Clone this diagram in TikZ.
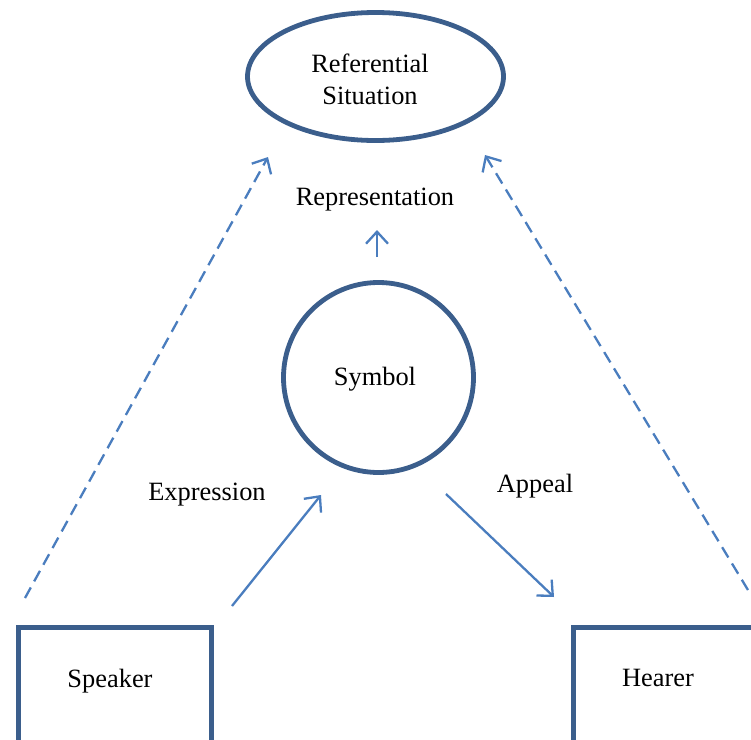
\documentclass[tikz,border=0pt]{standalone}
\usepackage{fontspec}
\setmainfont{Liberation Serif}
\usetikzlibrary{shapes.geometric}
\usetikzlibrary{arrows.meta}
\definecolor{framecol}{RGB}{59,94,140}
\definecolor{arrowcol}{RGB}{74,125,190}

\begin{document}
\begin{tikzpicture}[x=0.5pt,y=-0.5pt,
    font=\fontsize{13.2}{16}\selectfont,
    frame/.style={draw=framecol,line width=2.4pt},
    link/.style={draw=arrowcol,line width=1.15pt,arrows={-{Straight Barb[length=6pt,width=11pt,line width=1.15pt]}}},
    label/.style={inner sep=0pt,align=center}]
    \useasboundingbox (0,0) rectangle (751,740);
    \clip (0,0) rectangle (751,740);

    % shapes
    \node [frame,ellipse,minimum width=128pt,minimum height=64pt] (situation) at (375.5,76.5) {};
    \node [frame,circle,minimum size=95pt] (symbol) at (378.5,377.5) {};
    \node [frame,rectangle,anchor=north west,minimum width=96.5pt,minimum height=80pt] (speaker) at (16,625) {};
    \node [frame,rectangle,anchor=north west,minimum width=100pt,minimum height=80pt] (hearer) at (571,625) {};

    % texts
    \node [label] (situationtext) at (370,79) {Referential\\Situation};
    \node [label] (symboltext) at (375,379) {Symbol};
    \node [label] (speakertext) at (110,681) {Speaker};
    \node [label] (hearertext) at (658,678) {Hearer};
    \node [label] (reprtext) at (375,200) {Representation};
    \node [label] (exprtext) at (207,495) {Expression};
    \node [label] (appealtext) at (535,486) {Appeal};

    % arrow ends
    \coordinate (sp1) at (25,598);
    \coordinate (sp2) at (268,157);
    \coordinate (he1) at (748,590);
    \coordinate (he2) at (485,155);
    \coordinate (re1) at (377,257);
    \coordinate (re2) at (377,230);
    \coordinate (ex1) at (232,606);
    \coordinate (ex2) at (321,495);
    \coordinate (ap1) at (446,494);
    \coordinate (ap2) at (554,597);

    \draw [link,dash pattern=on 6pt off 3.5pt] (sp1) -- (sp2);
    \draw [link,dash pattern=on 6pt off 3.5pt] (he1) -- (he2);
    \draw [link] (re1) -- (re2);
    \draw [link] (ex1) -- (ex2);
    \draw [link] (ap1) -- (ap2);
\end{tikzpicture}
\end{document}
